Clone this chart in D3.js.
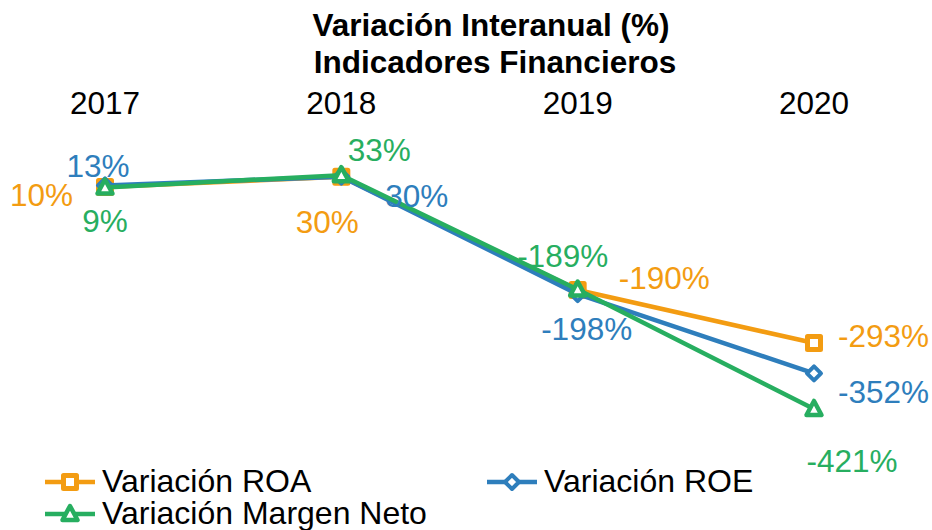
<!DOCTYPE html>
<html lang="es">
<head>
  <meta charset="UTF-8">
  <title>Variación Interanual (%)</title>
  <script src="https://d3js.org/d3.v7.min.js"></script>
  <style>
    body { margin: 0; background: #fff; }
    text { font-family: "Liberation Sans", Arial, sans-serif; }
  </style>
</head>
<body>
<script>
  const years = ["2017", "2018", "2019", "2020"];
  const roa = [10, 30, -190, -293];
  const roe = [13, 30, -198, -352];
  const margen = [9, 33, -189, -421];

  const seriesNames = ["Variación ROA", "Variación ROE", "Variación Margen Neto"];
  const colors = ["#F39C12", "#2E7EBC", "#27AE60"];
  const shapes = ["square", "diamond", "triangle"];

  // label offsets (dx, dy, anchor) per series, per year
  const labelPos = [
    [[-32, 19, "end"], [-14, 56, "middle"], [41, -1, "start"], [24, 4, "start"]],
    [[-7, -8, "middle"], [44, 30, "start"], [9, 46, "middle"], [24, 30, "start"]],
    [[0, 44, "middle"], [38, -14, "middle"], [-15, -22, "middle"], [38, 63, "middle"]]
  ];

  const width = 932, height = 530;

  const svg = d3.select("body").append("svg")
    .attr("width", width)
    .attr("height", height);

  const x = d3.scalePoint().domain(years).range([105, 814]);
  const y = d3.scaleLinear().domain([-450, 50]).range([423.9, 166.4]);

  // title
  svg.append("text")
    .attr("x", 491).attr("y", 36)
    .attr("text-anchor", "middle")
    .attr("font-size", 31.5).attr("font-weight", "bold")
    .text("Variación Interanual (%)");
  svg.append("text")
    .attr("x", 495).attr("y", 73)
    .attr("text-anchor", "middle")
    .attr("font-size", 31.5).attr("font-weight", "bold")
    .text("Indicadores Financieros");

  // x axis on top
  svg.append("g")
    .selectAll("text")
    .data(years)
    .join("text")
    .attr("x", d => x(d))
    .attr("y", 114)
    .attr("text-anchor", "middle")
    .attr("font-size", 31.5)
    .text(d => d);

  const allSeries = [roa, roe, margen];

  const line = d3.line()
    .x((d, i) => x(years[i]))
    .y(d => y(d));

  function marker(g, shape, color, cx, cy) {
    if (shape === "square") {
      g.append("rect")
        .attr("x", cx - 6.5).attr("y", cy - 6.5)
        .attr("width", 13).attr("height", 13)
        .attr("fill", "#fff").attr("stroke", color).attr("stroke-width", 5)
        .attr("stroke-linejoin", "round");
    } else if (shape === "diamond") {
      g.append("path")
        .attr("d", `M${cx},${cy - 7}L${cx + 7},${cy}L${cx},${cy + 7}L${cx - 7},${cy}Z`)
        .attr("fill", "#fff").attr("stroke", color).attr("stroke-width", 4)
        .attr("stroke-linejoin", "round");
    } else {
      g.append("path")
        .attr("d", `M${cx},${cy - 8}L${cx + 7.5},${cy + 6}L${cx - 7.5},${cy + 6}Z`)
        .attr("fill", "#fff").attr("stroke", color).attr("stroke-width", 4.5)
        .attr("stroke-linejoin", "round");
    }
  }

  allSeries.forEach((vals, s) => {
    const g = svg.append("g");
    g.append("path")
      .datum(vals)
      .attr("d", line)
      .attr("fill", "none")
      .attr("stroke", colors[s])
      .attr("stroke-width", 4.5)
      .attr("stroke-linejoin", "round");
    vals.forEach((v, i) => marker(g, shapes[s], colors[s], x(years[i]), y(v)));
  });

  // data labels
  allSeries.forEach((vals, s) => {
    svg.append("g")
      .selectAll("text")
      .data(vals)
      .join("text")
      .attr("x", (d, i) => x(years[i]) + labelPos[s][i][0])
      .attr("y", (d, i) => y(d) + labelPos[s][i][1])
      .attr("text-anchor", (d, i) => labelPos[s][i][2])
      .attr("font-size", 31.5)
      .attr("fill", colors[s])
      .text(d => d + "%");
  });

  // legend
  const legendPos = [[45, 482], [487, 482], [45, 514]];
  seriesNames.forEach((name, s) => {
    const [lx, ly] = legendPos[s];
    const g = svg.append("g");
    g.append("line")
      .attr("x1", lx).attr("x2", lx + 50)
      .attr("y1", ly).attr("y2", ly)
      .attr("stroke", colors[s]).attr("stroke-width", 4.5);
    marker(g, shapes[s], colors[s], lx + 25, ly);
    g.append("text")
      .attr("x", lx + 57).attr("y", ly + 9.5)
      .attr("font-size", 32)
      .text(name);
  });
</script>
</body>
</html>
